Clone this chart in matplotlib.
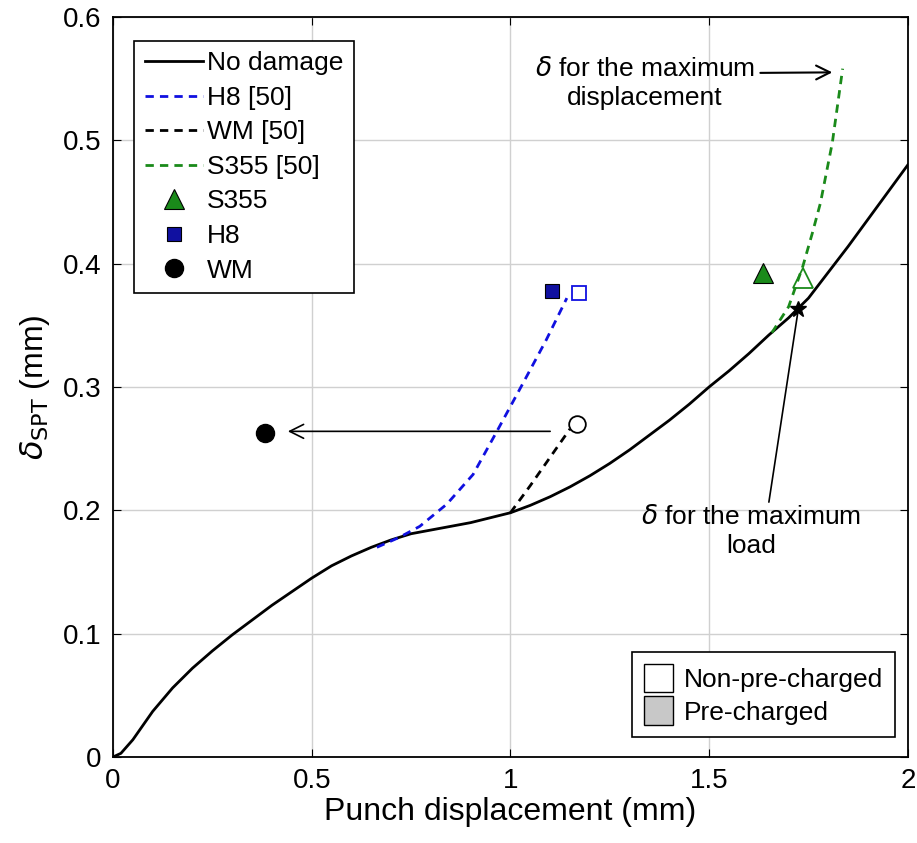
import matplotlib.pyplot as plt
from matplotlib.patches import Patch

plt.rcParams['font.family'] = ['Liberation Sans', 'DejaVu Sans']
plt.rcParams['mathtext.fontset'] = 'dejavusans'

# No damage curve
nd_x = [0, 0.02, 0.05, 0.1, 0.15, 0.2, 0.25, 0.3, 0.35, 0.4, 0.45, 0.5, 0.55, 0.6,
        0.65, 0.7, 0.75, 0.8, 0.85, 0.9, 0.95, 1.0, 1.05, 1.1, 1.15, 1.2, 1.25,
        1.3, 1.35, 1.4, 1.45, 1.5, 1.55, 1.6, 1.65, 1.7, 1.75, 1.8, 1.85, 1.9,
        1.95, 2.0]
nd_y = [0, 0.003, 0.014, 0.037, 0.056, 0.072, 0.086, 0.099, 0.111, 0.123, 0.134,
        0.145, 0.155, 0.163, 0.170, 0.176, 0.181, 0.184, 0.187, 0.190, 0.194,
        0.198, 0.204, 0.211, 0.219, 0.228, 0.238, 0.249, 0.261, 0.273, 0.286,
        0.300, 0.313, 0.327, 0.342, 0.356, 0.372, 0.393, 0.414, 0.436, 0.458, 0.480]

# literature curves [50]
h8_x = [0.664, 0.72, 0.772, 0.84, 0.906, 0.966, 1.03, 1.09, 1.142]
h8_y = [0.170, 0.178, 0.187, 0.205, 0.229, 0.264, 0.302, 0.338, 0.372]
wm_x = [1.0, 1.05, 1.10, 1.15]
wm_y = [0.198, 0.220, 0.243, 0.266]
s355_x = [1.658, 1.70, 1.736, 1.76, 1.78, 1.81, 1.836]
s355_y = [0.344, 0.365, 0.398, 0.425, 0.449, 0.498, 0.558]

# test points: (non-pre-charged, pre-charged)
s355_pts_x = [1.736, 1.635]
s355_pts_y = [0.388, 0.392]
h8_pts_x = [1.172, 1.104]
h8_pts_y = [0.376, 0.378]
wm_pts_x = [1.167, 0.382]
wm_pts_y = [0.270, 0.263]

max_load = (1.723, 0.363)

fig = plt.figure(figsize=(9.17, 8.43), dpi=100)
ax = fig.add_axes([0.1232, 0.102, 0.8668, 0.878])

l_nd, = ax.plot(nd_x, nd_y, color='black', lw=2, label='No damage')
l_h8, = ax.plot(h8_x, h8_y, color='#1010e0', lw=2, ls=(0, (3, 2.2)), label='H8 [50]')
l_wm, = ax.plot(wm_x, wm_y, color='black', lw=2, ls=(0, (3, 2.2)), label='WM [50]')
l_s3, = ax.plot(s355_x, s355_y, color='#1a8a1a', lw=2, ls=(0, (3, 2.2)), label='S355 [50]')

# open markers (non-pre-charged)
ax.plot(s355_pts_x[0], s355_pts_y[0], '^', ms=14, mfc='none', mec='#1a8a1a', mew=1.3)
ax.plot(h8_pts_x[0], h8_pts_y[0], 's', ms=10, mfc='none', mec='#1010e0', mew=1.3)
ax.plot(wm_pts_x[0], wm_pts_y[0], 'o', ms=12, mfc='none', mec='black', mew=1.3)

# filled markers (pre-charged)
m_s3, = ax.plot(s355_pts_x[1], s355_pts_y[1], '^', ms=15, mfc='#1a8a1a', mec='black',
                mew=0.8, ls='none', label='S355')
m_h8, = ax.plot(h8_pts_x[1], h8_pts_y[1], 's', ms=10, mfc='#1010a0', mec='black',
                mew=0.8, ls='none', label='H8')
m_wm, = ax.plot(wm_pts_x[1], wm_pts_y[1], 'o', ms=13, mfc='black', mec='black',
                ls='none', label='WM')

ax.plot(*max_load, '*', ms=12, color='black')

# arrow from WM open to WM filled
ax.annotate('', xy=(0.433, 0.264), xytext=(1.107, 0.264),
            arrowprops=dict(arrowstyle='->', color='black', lw=1.2, mutation_scale=25))

ax.annotate('$\\delta$ for the maximum\ndisplacement', xy=(1.81, 0.555), xytext=(1.338, 0.546),
            ha='center', va='center', fontsize=19, linespacing=1.25,
            arrowprops=dict(arrowstyle='->', color='black', lw=1.5, mutation_scale=25,
                            shrinkA=2, shrinkB=0,
                            relpos=(1.0, 0.7)))
ax.annotate('$\\delta$ for the maximum\nload', xy=(max_load[0], max_load[1] - 0.003),
            xytext=(1.605, 0.183), ha='center', va='center', fontsize=19, linespacing=1.25,
            arrowprops=dict(arrowstyle='-', color='black', lw=1.2, shrinkA=0, shrinkB=0,
                            relpos=(0.58, 1.0)))

ax.set_xlim(0, 2)
ax.set_ylim(0, 0.6)
ax.set_xticks([0, 0.5, 1, 1.5, 2])
ax.set_xticklabels(['0', '0.5', '1', '1.5', '2'])
ax.set_yticks([0, 0.1, 0.2, 0.3, 0.4, 0.5, 0.6])
ax.set_yticklabels(['0', '0.1', '0.2', '0.3', '0.4', '0.5', '0.6'])
ax.tick_params(direction='in', top=True, right=True, labelsize=20, length=6, pad=8)
ax.grid(True, color='#d0d0d0', lw=1)
ax.set_axisbelow(True)
for s in ax.spines.values():
    s.set_linewidth(1.3)

ax.set_xlabel('Punch displacement (mm)', fontsize=23, labelpad=2)
ax.set_ylabel('$\\delta_{\\mathrm{SPT}}$ (mm)', fontsize=23, labelpad=8)

leg1 = ax.legend(handles=[l_nd, l_h8, l_wm, l_s3, m_s3, m_h8, m_wm], loc='upper left',
                 bbox_to_anchor=(0.02, 0.975), fontsize=19, handlelength=2.2,
                 handletextpad=0.15, labelspacing=0.4, fancybox=False,
                 edgecolor='black', framealpha=1, borderpad=0.4, borderaxespad=0.2)
leg1.get_frame().set_linewidth(1.2)
ax.add_artist(leg1)

leg2 = ax.legend(handles=[Patch(facecolor='white', edgecolor='black', label='Non-pre-charged'),
                          Patch(facecolor='#c8c8c8', edgecolor='black', label='Pre-charged')],
                 loc='lower right', bbox_to_anchor=(0.99, 0.02), fontsize=19,
                 handlelength=1.1, handleheight=1.3, handletextpad=0.4,
                 labelspacing=0.15, fancybox=False, edgecolor='black', framealpha=1,
                 borderpad=0.45, borderaxespad=0.2)
leg2.get_frame().set_linewidth(1.2)

fig.savefig('out.png', dpi=100)
